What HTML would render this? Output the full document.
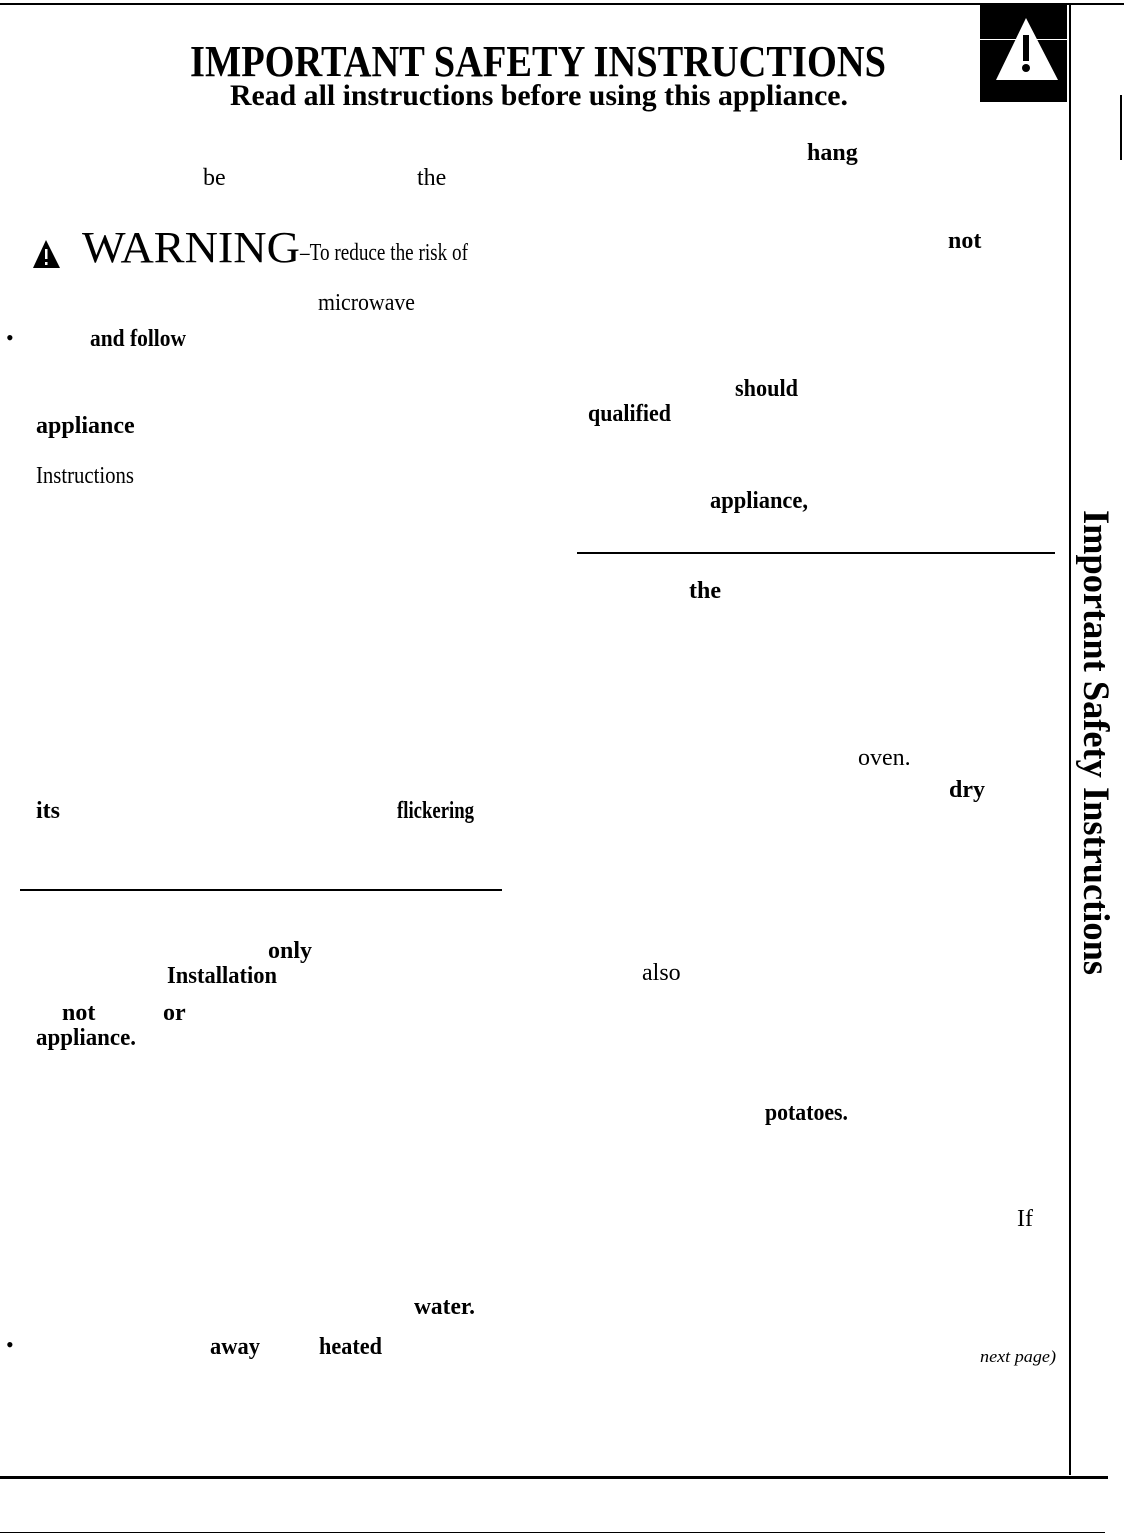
<!DOCTYPE html>
<html><head><meta charset="utf-8"><style>
html,body{margin:0;padding:0;background:#fff;}
body{width:1124px;height:1534px;position:relative;overflow:hidden;}
svg{position:absolute;left:0;top:0;}
text{font-family:"Liberation Serif",serif;fill:#000;}
.b{font-weight:bold;}
</style></head><body>
<svg width="1124" height="1534" viewBox="0 0 1124 1534">
<rect x="0" y="3" width="1124" height="2" fill="#000"/>
<rect x="980" y="5" width="87" height="97" fill="#000"/>
<polygon points="1026,18 996,80 1058,80" fill="#fff"/>
<rect x="980" y="39" width="87" height="1" fill="#fff"/>
<rect x="1023" y="35" width="6" height="26" fill="#000"/><circle cx="1026" cy="68" r="4" fill="#000"/>
<rect x="1069" y="5" width="2" height="1470" fill="#000"/>
<rect x="1120" y="95" width="2" height="65" fill="#000"/>
<rect x="0" y="1476" width="1108" height="3" fill="#000"/>
<rect x="0" y="1532" width="1105" height="1" fill="#000"/>
<rect x="577" y="552" width="478" height="2" fill="#000"/>
<rect x="20" y="889" width="482" height="2" fill="#000"/>

<text class="b" x="190" y="76" font-size="44" textLength="696" lengthAdjust="spacingAndGlyphs">IMPORTANT SAFETY INSTRUCTIONS</text>
<text class="b" x="230" y="105" font-size="30" textLength="618" lengthAdjust="spacingAndGlyphs">Read all instructions before using this appliance.</text>

<polygon points="46,240 33,268 60,268" fill="#000"/>
<rect x="45" y="249" width="2.5" height="10" fill="#fff"/><rect x="45" y="262" width="2.5" height="3" fill="#fff"/>
<text x="82" y="262" font-size="44" textLength="218" lengthAdjust="spacingAndGlyphs">WARNING</text>
<text x="300" y="260" font-size="24" textLength="168" lengthAdjust="spacingAndGlyphs">–To reduce the risk of</text>

<g>
<text class="b" x="807" y="160" font-size="24">hang</text>
<text x="203" y="185" font-size="24">be</text>
<text x="417" y="185" font-size="24">the</text>
<text class="b" x="948" y="248" font-size="24">not</text>
<text x="318" y="310" font-size="24" textLength="97" lengthAdjust="spacingAndGlyphs">microwave</text>
<text x="6" y="345" font-size="22">•</text>
<text class="b" x="90" y="346" font-size="24" textLength="96" lengthAdjust="spacingAndGlyphs">and follow</text>
<text class="b" x="735" y="396" font-size="24" textLength="63" lengthAdjust="spacingAndGlyphs">should</text>
<text class="b" x="588" y="421" font-size="24" textLength="83" lengthAdjust="spacingAndGlyphs">qualified</text>
<text class="b" x="36" y="433" font-size="24">appliance</text>
<text x="36" y="483" font-size="24" textLength="98" lengthAdjust="spacingAndGlyphs">Instructions</text>
<text class="b" x="710" y="508" font-size="24" textLength="98" lengthAdjust="spacingAndGlyphs">appliance,</text>
<text class="b" x="689" y="598" font-size="24">the</text>
<text x="858" y="765" font-size="24">oven.</text>
<text class="b" x="949" y="797" font-size="24">dry</text>
<text class="b" x="36" y="818" font-size="24">its</text>
<text class="b" x="397" y="818" font-size="24" textLength="77" lengthAdjust="spacingAndGlyphs">flickering</text>
<text class="b" x="268" y="958" font-size="24">only</text>
<text class="b" x="167" y="983" font-size="24" textLength="110" lengthAdjust="spacingAndGlyphs">Installation</text>
<text x="642" y="980" font-size="24">also</text>
<text class="b" x="62" y="1020" font-size="24">not</text>
<text class="b" x="163" y="1020" font-size="24">or</text>
<text class="b" x="36" y="1045" font-size="24" textLength="100" lengthAdjust="spacingAndGlyphs">appliance.</text>
<text class="b" x="765" y="1120" font-size="24" textLength="83" lengthAdjust="spacingAndGlyphs">potatoes.</text>
<text x="1017" y="1226" font-size="24">If</text>
<text class="b" x="414" y="1314" font-size="24" textLength="61" lengthAdjust="spacingAndGlyphs">water.</text>
<text x="6" y="1352" font-size="22">•</text>
<text class="b" x="210" y="1354" font-size="24" textLength="50" lengthAdjust="spacingAndGlyphs">away</text>
<text class="b" x="319" y="1354" font-size="24" textLength="63" lengthAdjust="spacingAndGlyphs">heated</text>
<text x="980" y="1362" font-size="17" font-style="italic" textLength="76" lengthAdjust="spacingAndGlyphs">next page)</text>
</g>

<text class="b" font-size="37" transform="translate(1084,510) rotate(90)" textLength="465" lengthAdjust="spacingAndGlyphs">Important Safety Instructions</text>
</svg>
</body></html>
